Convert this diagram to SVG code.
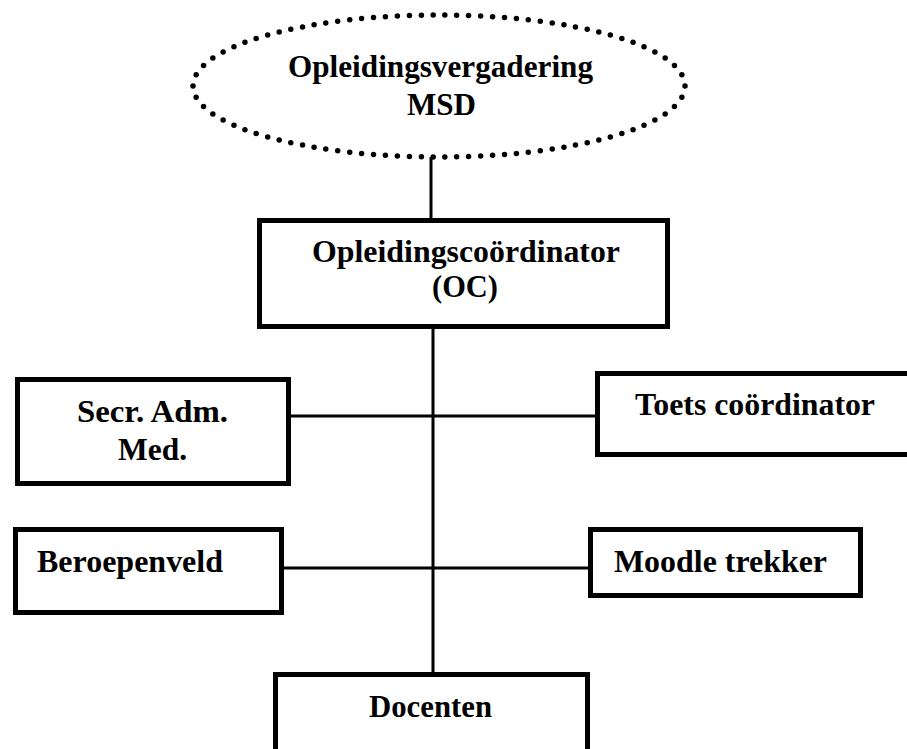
<svg xmlns="http://www.w3.org/2000/svg" width="907" height="749" viewBox="0 0 907 749">
<style>
.box{fill:#fff;stroke:#000;stroke-width:5}
.t{font-family:"Liberation Serif","Times New Roman",serif;font-weight:bold;font-size:31px;fill:#000}
.c{stroke:#000;stroke-width:3;fill:none}
</style>
<rect width="907" height="749" fill="#fff"/>
<g id="connectors">
<line class="c" x1="431" y1="157" x2="431" y2="219"/>
<line class="c" x1="433" y1="326" x2="433" y2="673"/>
<line class="c" x1="290" y1="416" x2="433" y2="416"/>
<line class="c" x1="433" y1="416" x2="596" y2="416"/>
<line class="c" x1="283" y1="568" x2="433" y2="568"/>
<line class="c" x1="433" y1="568" x2="589" y2="568"/>
</g>
<g id="opleidingsvergadering">
<ellipse cx="439" cy="86" rx="246" ry="71" fill="none" stroke="#000" stroke-width="5.5" stroke-linecap="round" stroke-dasharray="0 12" pathLength="1080"/>
<text class="t" x="288" y="77" textLength="305" lengthAdjust="spacingAndGlyphs">Opleidingsvergadering</text>
<text class="t" x="407" y="115" textLength="69" lengthAdjust="spacingAndGlyphs">MSD</text>
</g>
<g id="oc">
<rect class="box" x="259.5" y="220.5" width="408" height="106"/>
<text class="t" x="312" y="262" textLength="308" lengthAdjust="spacingAndGlyphs">Opleidingscoördinator</text>
<text class="t" x="432" y="297" textLength="66" lengthAdjust="spacingAndGlyphs">(OC)</text>
</g>
<g id="secr">
<rect class="box" x="17.5" y="379.5" width="271" height="104"/>
<text class="t" x="77" y="422" textLength="151" lengthAdjust="spacingAndGlyphs">Secr. Adm.</text>
<text class="t" x="118" y="460" textLength="69" lengthAdjust="spacingAndGlyphs">Med.</text>
</g>
<g id="toets">
<rect class="box" x="597.5" y="373.5" width="330" height="81"/>
<text class="t" x="635" y="415" textLength="240" lengthAdjust="spacingAndGlyphs">Toets coördinator</text>
</g>
<g id="beroepenveld">
<rect class="box" x="15.5" y="529.5" width="266" height="83"/>
<text class="t" x="37" y="572" textLength="186" lengthAdjust="spacingAndGlyphs">Beroepenveld</text>
</g>
<g id="moodle">
<rect class="box" x="590.5" y="529.5" width="270" height="66"/>
<text class="t" x="614" y="572" textLength="213" lengthAdjust="spacingAndGlyphs">Moodle trekker</text>
</g>
<g id="docenten">
<rect class="box" x="275.5" y="674.5" width="312" height="100"/>
<text class="t" x="369" y="717" textLength="123" lengthAdjust="spacingAndGlyphs">Docenten</text>
</g>
</svg>
